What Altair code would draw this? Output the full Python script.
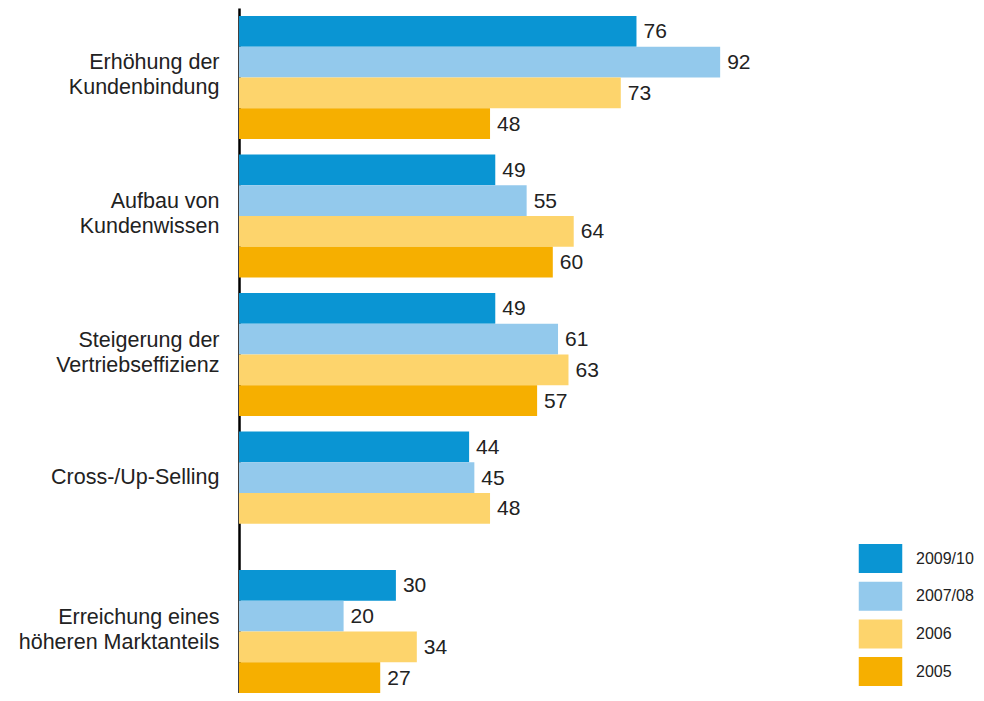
import altair as alt
import pandas as pd

categories = ["Erhöhung der|Kundenbindung", "Aufbau von|Kundenwissen",
              "Steigerung der|Vertriebseffizienz", "Cross-/Up-Selling",
              "Erreichung eines|höheren Marktanteils"]
years = ["2009/10", "2007/08", "2006", "2005"]
v2009 = [76, 49, 49, 44, 30]
v2007 = [92, 55, 61, 45, 20]
v2006 = [73, 64, 63, 48, 34]
v2005 = [48, 60, 57, None, 27]
colors = ["#0a95d3", "#93c9ec", "#fdd46c", "#f6af00"]

rows = []
for yr, vals in zip(years, [v2009, v2007, v2006, v2005]):
    for c, v in zip(categories, vals):
        if v is not None:
            rows.append({"cat": c, "year": yr, "value": v})
df = pd.DataFrame(rows)

FONT = "Liberation Sans"

y = alt.Y("cat:N", sort=categories, title=None,
          scale=alt.Scale(paddingInner=0.112, paddingOuter=0.0289, align=1),
          axis=alt.Axis(labelExpr="split(datum.label, '|')", labelFont=FONT,
                        labelFontSize=21.5, labelColor="#222", labelLineHeight=25,
                        labelPadding=20, labelLimit=0, ticks=False, domainColor="black",
                        domainWidth=2.5, labelBaseline="middle",
                        labelOffset={"condition": {"test": "datum.value == 'Cross-/Up-Selling'", "value": -15}, "value": -14}))
x = alt.X("value:Q", scale=alt.Scale(domain=[0, 100]), axis=None)
yoff = alt.YOffset("year:N", sort=years)

bars = alt.Chart(df).mark_bar().encode(
    x=x, y=y, yOffset=yoff,
    color=alt.Color("year:N", sort=years,
                    scale=alt.Scale(domain=years, range=colors),
                    legend=alt.Legend(title=None, orient="none", legendX=627, legendY=536,
                                      symbolType="M-1.5,-1H1.5V1H-1.5Z", symbolSize=841,
                                      symbolStrokeWidth=0, symbolOpacity=1,
                                      labelFont=FONT, labelFontSize=16, labelColor="#222",
                                      labelOffset=21, rowPadding=8.7)))

text = alt.Chart(df).mark_text(align="left", baseline="middle", dx=7, dy=1,
                               font=FONT, fontSize=21, color="#222").encode(
    x=x, y=alt.Y("cat:N", sort=categories), yOffset=yoff, text="value:Q")

chart = (bars + text).properties(
    width=523, height=685,
    autosize=alt.AutoSizeParams(type="none"),
    padding={"left": 231, "top": 0, "right": 214, "bottom": 0},
).configure_view(stroke=None)

chart.save("out.html", embed_options={"renderer": "svg", "actions": False})
